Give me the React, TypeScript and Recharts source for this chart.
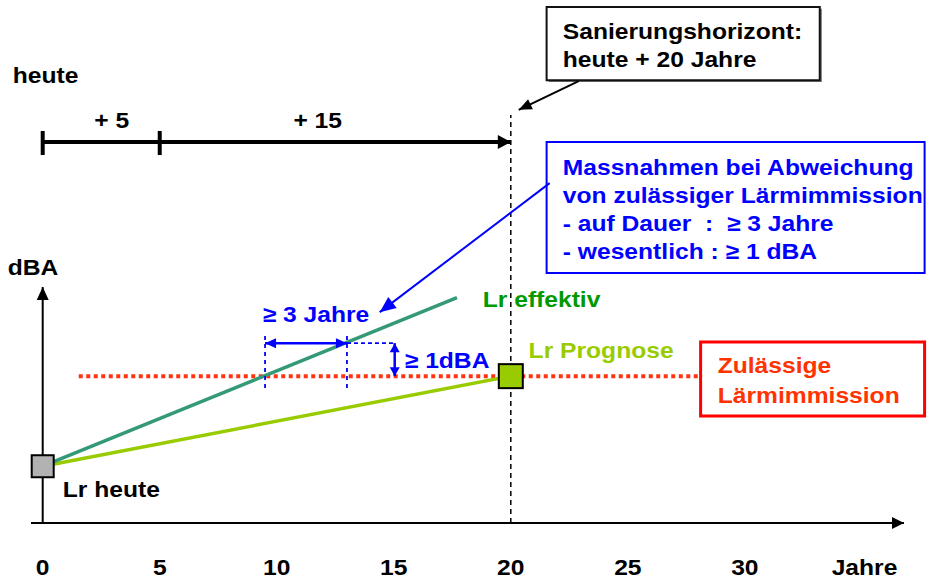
import React from 'react'
import { ComposedChart, Line, XAxis, YAxis, ReferenceLine, ReferenceDot, ReferenceArea } from 'recharts'

// Jahre (x) und dBA (y, relative Skala)
const tickYears = [0, 5, 10, 15, 20, 25, 30]
const effektivYears = [0, 17.7]
const effektivDBA = [1.72, 6.83]
const prognoseYears = [0, 20]
const prognoseDBA = [1.72, 4.45]
const limitYears = [1.54, 28]
const limitDBA = [4.45, 4.45]
const horizonYear = 20
const timelineYears = [0, 5, 20]
const timelineLabels = ['+ 5', '+ 15']
const deviationYears = [9.5, 13.0]
const deviationDBA = 1

const effektivData = effektivYears.map((year, i) => ({ year, dba: effektivDBA[i] }))
const prognoseData = prognoseYears.map((year, i) => ({ year, dba: prognoseDBA[i] }))
const limitData = limitYears.map((year, i) => ({ year, dba: limitDBA[i] }))
const limit = limitDBA[0]

const FONT = "'Liberation Sans', Arial, Helvetica, sans-serif"
const BLUE = '#0000ff'
const STRETCH = 1.12

function head(x1: number, y1: number, x2: number, y2: number, len: number, half: number, color: string) {
  const a = Math.atan2(y2 - y1, x2 - x1)
  const bx = x2 - len * Math.cos(a)
  const by = y2 - len * Math.sin(a)
  const px = -Math.sin(a) * half
  const py = Math.cos(a) * half
  return <polygon points={`${x2},${y2} ${bx + px},${by + py} ${bx - px},${by - py}`} fill={color} />
}

type ArrowOpts = { width: number; start?: boolean; end?: boolean; len?: number; half?: number; dash?: string }

const arrow = (color: string, o: ArrowOpts) => (p: any) => {
  const { x1, y1, x2, y2 } = p
  const len = o.len ?? 12
  const half = o.half ?? 6
  return (
    <g>
      <line x1={x1} y1={y1} x2={x2} y2={y2} stroke={color} strokeWidth={o.width} strokeDasharray={o.dash} />
      {o.end && head(x1, y1, x2, y2, len, half, color)}
      {o.start && head(x2, y2, x1, y1, len, half, color)}
    </g>
  )
}

// Text, leicht horizontal gestreckt wie im Original
const label = (lines: string[], color: string, anchor: 'start' | 'middle' = 'start', lineH = 28) => (p: any) => (
  <text
    transform={`translate(${p.cx},${p.cy}) scale(${STRETCH},1)`}
    fill={color}
    fontFamily={FONT}
    fontWeight="bold"
    fontSize={22}
    textAnchor={anchor}
    style={{ whiteSpace: 'pre' }}
  >
    {lines.map((l, i) => (
      <tspan key={i} x={0} dy={i === 0 ? 0 : lineH}>
        {l}
      </tspan>
    ))}
  </text>
)

const square = (size: number, fill: string) => (p: any) => (
  <rect x={p.cx - size / 2} y={p.cy - size / 2} width={size} height={size} fill={fill} stroke="#000" strokeWidth={2} />
)

const YearTick = ({ x, y, payload }: any) => (
  <text
    transform={`translate(${x},${y + 52}) scale(${STRETCH},1)`}
    textAnchor="middle"
    fontFamily={FONT}
    fontWeight="bold"
    fontSize={22}
    fill="#000"
  >
    {payload.value}
  </text>
)

export default function App() {
  return (
    <div style={{ position: 'absolute', left: 0, top: 0, width: 927, height: 581, background: '#fff' }}>
      <ComposedChart width={927} height={581} margin={{ top: 28, right: 23, bottom: 0, left: 31 }}>
        <XAxis
          dataKey="year"
          type="number"
          domain={[-0.5, 36.8]}
          allowDataOverflow
          ticks={tickYears}
          interval={0}
          height={58}
          axisLine={false}
          tickLine={false}
          tickSize={0}
          tickMargin={0}
          tick={<YearTick />}
        />
        <YAxis type="number" domain={[0, 15]} allowDataOverflow hide />

        {/* Kästen */}
        <ReferenceArea x1={21.62} x2={33.29} y1={13.36} y2={15.58} ifOverflow="visible" fill="#777" fillOpacity={1} stroke="none" />
        <ReferenceArea x1={21.53} x2={33.2} y1={13.42} y2={15.64} ifOverflow="visible" fill="#fff" fillOpacity={1} stroke="#111" strokeWidth={2} />
        <ReferenceArea x1={21.53} x2={37.68} y1={7.576} y2={11.545} ifOverflow="visible" fill="#fff" fillOpacity={1} stroke={BLUE} strokeWidth={2} />
        <ReferenceArea x1={28.11} x2={37.68} y1={3.242} y2={5.485} ifOverflow="visible" fill="#fff" fillOpacity={1} stroke="#ff0000" strokeWidth={3} />

        {/* Achsen */}
        <ReferenceLine segment={[{ x: -0.5, y: 0 }, { x: 36.8, y: 0 }]} ifOverflow="visible" shape={arrow('#000', { width: 2, end: true, len: 12, half: 6 })} />
        <ReferenceLine segment={[{ x: 0, y: 0 }, { x: 0, y: 7.15 }]} ifOverflow="visible" shape={arrow('#000', { width: 2, end: true, len: 13, half: 6 })} />

        {/* Zeitstrahl */}
        <ReferenceLine segment={[{ x: timelineYears[0], y: 11.545 }, { x: timelineYears[2], y: 11.545 }]} ifOverflow="visible" shape={arrow('#000', { width: 4, end: true, len: 13, half: 7 })} />
        {timelineYears.slice(0, 2).map((yr) => (
          <ReferenceLine key={yr} segment={[{ x: yr, y: 11.15 }, { x: yr, y: 11.88 }]} ifOverflow="visible" stroke="#000" strokeWidth={4} />
        ))}
        <ReferenceDot x={2.95} y={11.97} ifOverflow="visible" shape={label([timelineLabels[0]], '#000', 'middle')} />
        <ReferenceDot x={11.75} y={11.97} ifOverflow="visible" shape={label([timelineLabels[1]], '#000', 'middle')} />

        {/* Grenzwert und Prognosen */}
        <Line data={limitData} dataKey="dba" type="linear" stroke="#ff3311" strokeWidth={4} strokeDasharray="4 3.5" dot={false} isAnimationActive={false} />
        <Line data={prognoseData} dataKey="dba" type="linear" stroke="#99cc00" strokeWidth={3.5} dot={false} isAnimationActive={false} />
        <Line data={effektivData} dataKey="dba" type="linear" stroke="#339977" strokeWidth={3.5} dot={false} isAnimationActive={false} />

        <ReferenceDot x={prognoseYears[0]} y={prognoseDBA[0]} ifOverflow="visible" shape={square(22, '#b2b2b2')} />
        <ReferenceDot x={prognoseYears[1]} y={prognoseDBA[1]} ifOverflow="visible" shape={square(24, '#99cc00')} />

        {/* Sanierungshorizont */}
        <ReferenceLine segment={[{ x: horizonYear, y: 0 }, { x: horizonYear, y: 12.36 }]} ifOverflow="visible" stroke="#000" strokeWidth={1.5} strokeDasharray="5 4" />
        <ReferenceLine segment={[{ x: 22.9, y: 13.39 }, { x: 20.34, y: 12.52 }]} ifOverflow="visible" shape={arrow('#000', { width: 2, end: true, len: 13, half: 5.5 })} />
        <ReferenceLine segment={[{ x: 21.66, y: 10.3 }, { x: 14.4, y: 6.39 }]} ifOverflow="visible" shape={arrow(BLUE, { width: 2, end: true, len: 16, half: 7 })} />

        {/* Abweichung */}
        {deviationYears.map((yr) => (
          <ReferenceLine key={yr} segment={[{ x: yr, y: 4.09 }, { x: yr, y: 5.79 }]} ifOverflow="visible" stroke={BLUE} strokeWidth={1.8} strokeDasharray="4 4" />
        ))}
        <ReferenceLine
          segment={[{ x: deviationYears[0], y: limit + deviationDBA }, { x: deviationYears[1], y: limit + deviationDBA }]}
          ifOverflow="visible"
          shape={arrow(BLUE, { width: 2.5, start: true, end: true, len: 11, half: 5 })}
        />
        <ReferenceLine segment={[{ x: deviationYears[1], y: limit + deviationDBA }, { x: 15.04, y: limit + deviationDBA }]} ifOverflow="visible" stroke={BLUE} strokeWidth={1.8} strokeDasharray="4 3" />
        <ReferenceLine
          segment={[{ x: 15.04, y: limit + deviationDBA }, { x: 15.04, y: limit }]}
          ifOverflow="visible"
          shape={arrow(BLUE, { width: 2.5, start: true, end: true, len: 9, half: 5 })}
        />

        {/* Texte */}
        <ReferenceDot x={-1.28} y={13.33} ifOverflow="visible" shape={label(['heute'], '#000')} />
        <ReferenceDot x={22.22} y={14.67} ifOverflow="visible" shape={label(['Sanierungshorizont:', 'heute + 20 Jahre'], '#000')} />
        <ReferenceDot
          x={22.22}
          y={10.545}
          ifOverflow="visible"
          shape={label(['Massnahmen bei Abweichung', 'von zulässiger Lärmimmission', '- auf Dauer  :  ≥ 3 Jahre', '- wesentlich : ≥ 1 dBA'], BLUE)}
        />
        <ReferenceDot x={-1.495} y={7.515} ifOverflow="visible" shape={label(['dBA'], '#000')} />
        <ReferenceDot x={0.855} y={0.788} ifOverflow="visible" shape={label(['Lr heute'], '#000')} />
        <ReferenceDot x={18.8} y={6.545} ifOverflow="visible" shape={label(['Lr effektiv'], '#009900')} />
        <ReferenceDot x={20.76} y={5.0} ifOverflow="visible" shape={label(['Lr Prognose'], '#99cc00')} />
        <ReferenceDot x={28.84} y={4.545} ifOverflow="visible" shape={label(['Zulässige', 'Lärmimmission'], '#ff3300', 'start', 30)} />
        <ReferenceDot x={9.4} y={6.09} ifOverflow="visible" shape={label(['≥ 3 Jahre'], BLUE)} />
        <ReferenceDot x={15.47} y={4.7} ifOverflow="visible" shape={label(['≥ 1dBA'], BLUE)} />
        <ReferenceDot x={33.71} y={-1.576} ifOverflow="visible" shape={label(['Jahre'], '#000')} />
      </ComposedChart>
    </div>
  )
}
